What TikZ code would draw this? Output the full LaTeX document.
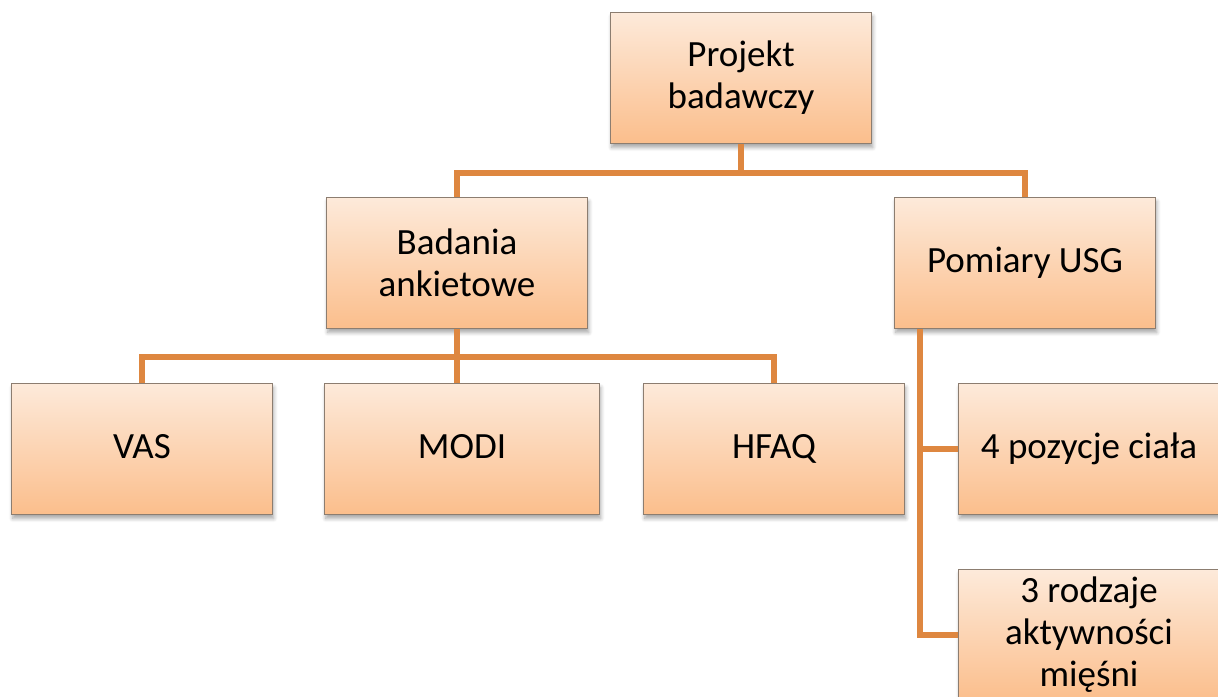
\documentclass[tikz,border=0pt]{standalone}
\usepackage{fontspec}
\setmainfont{Carlito}
\usetikzlibrary{calc, positioning, shadows.blur}
\definecolor{boxTop}{RGB}{253,234,218}
\definecolor{boxBottom}{RGB}{251,190,140}
\definecolor{boxEdge}{RGB}{140,125,112}
\definecolor{linkOrange}{RGB}{222,135,64}
\tikzset{
    orgBox/.style={rectangle, draw=boxEdge, line width=0.5pt, top color=boxTop, bottom color=boxBottom,
        minimum width=130.5pt, minimum height=65.5pt, inner sep=2pt, align=center,
        font=\fontsize{18.5}{21}\selectfont,
        blur shadow={shadow xshift=0.6pt, shadow yshift=-2pt, shadow opacity=35, shadow blur steps=6}},
    oneLine/.style={text height=2.5ex, text depth=0.6ex},
    orgLink/.style={draw=linkOrange, line width=3pt},
}

\begin{document}
\begin{tikzpicture}[x=0.5pt, y=-0.5pt]
        \useasboundingbox (0,0) rectangle (1218,696);
        \clip (0,0) rectangle (1218,696);

        \node[orgBox] (proj) at (741, 78) {Projekt\\badawczy};
        \node[orgBox] (bad) at (457, 263) {Badania\\ankietowe};
        \node[orgBox, oneLine] (pom) at (1025, 263) {Pomiary USG};
        \node[orgBox, oneLine] (vas) at (142, 449) {VAS};
        \node[orgBox, oneLine, minimum width=137.5pt] (modi) at (462, 449) {MODI};
        \node[orgBox, oneLine] (hfaq) at (774, 449) {HFAQ};
        \node[orgBox, oneLine] (poz) at (1089, 449) {4 pozycje ciała};
        \node[orgBox] (akt) at (1089, 635) {3 rodzaje\\aktywności\\mięśni};

        % poziom 1
        \draw[orgLink] (proj.south) -- ++(0,29) coordinate (projbus) -| (bad.north);
        \draw[orgLink] (projbus) -| (pom.north);

        % ankiety
        \draw[orgLink] (bad.south) -- ++(0,28) coordinate (badbus) -| (vas.north);
        \draw[orgLink] (badbus) -- (modi.north -| badbus);
        \draw[orgLink] (badbus) -| (hfaq.north);

        % USG
        \coordinate (pomtap) at ($(pom.south west)+(26,0)$);
        \draw[orgLink] (pomtap) |- (poz.west);
        \draw[orgLink] (pomtap) |- (akt.west);

    \end{tikzpicture}
\end{document}
